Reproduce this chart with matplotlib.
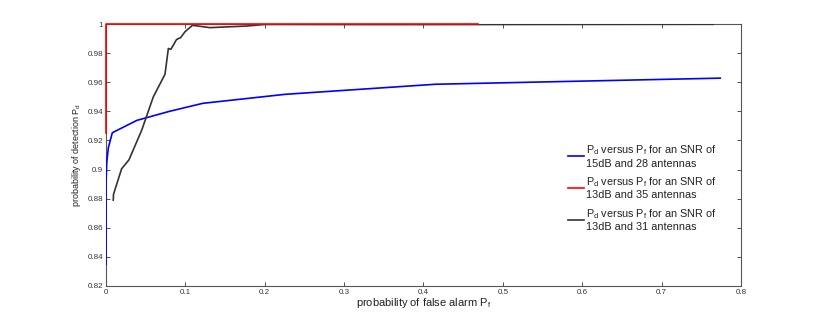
import matplotlib
matplotlib.use('Agg')
import matplotlib.pyplot as plt

plt.rcParams['font.family'] = ['Liberation Sans', 'DejaVu Sans']
plt.rcParams['mathtext.fontset'] = 'custom'
plt.rcParams['mathtext.rm'] = 'Liberation Sans'

# blue: SNR 15dB, 28 antennas
pf_blue = [0.0, 0.0, 0.001, 0.003, 0.008, 0.039, 0.08, 0.122, 0.226, 0.415, 0.774]
pd_blue = [0.835, 0.890, 0.905, 0.915, 0.9253, 0.9338, 0.940, 0.9455, 0.9517, 0.9586, 0.9628]

# red: SNR 13dB, 35 antennas
pf_red = [0.0, 0.0, 0.469]
pd_red = [0.925, 1.0, 1.0]

# black: SNR 13dB, 31 antennas
pf_black = [0.0092, 0.0095, 0.0197, 0.029, 0.045, 0.0597, 0.0744, 0.0786, 0.0818,
            0.089, 0.094, 0.0996, 0.109, 0.131, 0.177, 0.2, 0.35, 0.55, 0.765]
pd_black = [0.879, 0.883, 0.9005, 0.9067, 0.927, 0.950, 0.9655, 0.9832, 0.9826,
            0.9894, 0.9906, 0.9947, 0.9991, 0.9975, 0.9986, 0.9997, 0.9996, 0.9997, 0.9998]

labels = ['P$_\\mathrm{d}$ versus P$_\\mathrm{f}$ for an SNR of\n15dB and 28 antennas',
          'P$_\\mathrm{d}$ versus P$_\\mathrm{f}$ for an SNR of\n13dB and 35 antennas',
          'P$_\\mathrm{d}$ versus P$_\\mathrm{f}$ for an SNR of\n13dB and 31 antennas']

fig = plt.figure(figsize=(8.17, 3.27), dpi=100)
ax = fig.add_axes([0.1297, 0.1254, 0.7772, 0.8012])

ax.plot(pf_blue, pd_blue, color='#0000ff', lw=1.2, label=labels[0], zorder=3)
ax.plot(pf_red, pd_red, color='#ff0000', lw=1.2, label=labels[1], zorder=5, clip_on=False)
ax.plot(pf_black, pd_black, color='#333333', lw=1.2, label=labels[2], zorder=4)

ax.set_xlim(0, 0.8)
ax.set_ylim(0.82, 1.0)
ax.set_xticks([0, 0.1, 0.2, 0.3, 0.4, 0.5, 0.6, 0.7, 0.8])
ax.set_xticklabels(['0', '0.1', '0.2', '0.3', '0.4', '0.5', '0.6', '0.7', '0.8'])
yt = [0.82, 0.84, 0.86, 0.88, 0.9, 0.92, 0.94, 0.96, 0.98, 1.0]
ax.set_yticks(yt)
ax.set_yticklabels(['0.82', '0.84', '0.86', '0.88', '0.9', '0.92', '0.94', '0.96', '0.98', '1'])
ax.tick_params(direction='in', top=True, right=True, length=3, width=0.6,
               labelsize=5.8, colors='#333333', pad=2)
for s in ax.spines.values():
    s.set_color('#555555')
    s.set_linewidth(0.8)

ax.set_xlabel('probability of false alarm P$_\\mathrm{f}$', fontsize=8, labelpad=0, color='#222222')
ax.set_ylabel('probability of detection P$_\\mathrm{d}$', fontsize=6.5, labelpad=3, color='#222222')

leg = ax.legend(loc='center left', bbox_to_anchor=(0.712, 0.375), frameon=False,
                fontsize=7.8, handlelength=1.45, handletextpad=0.2, labelspacing=0.6)
for t in leg.get_texts():
    t.set_color('#222222')

fig.savefig('out.png', dpi=100)
